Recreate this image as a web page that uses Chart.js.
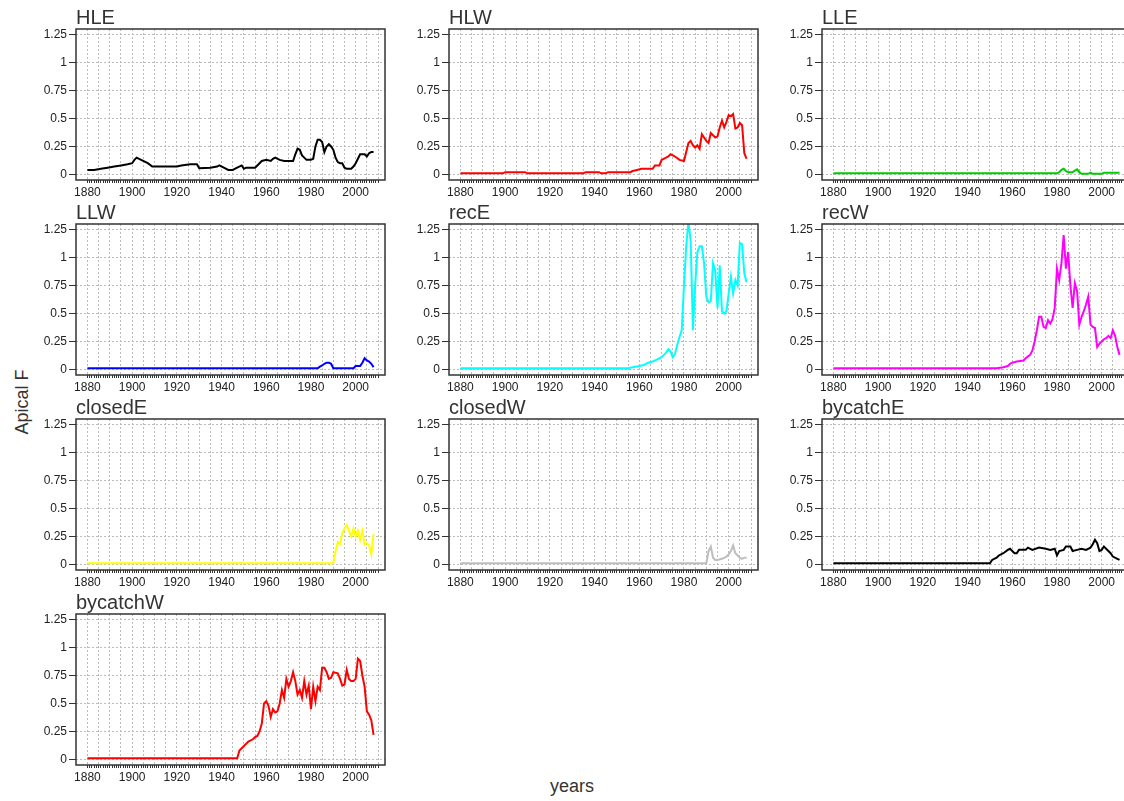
<!DOCTYPE html>
<html>
<head>
<meta charset="utf-8">
<script src="https://cdn.jsdelivr.net/npm/chart.js@4"></script>
<style>
  html, body { margin: 0; padding: 0; background: #fff; overflow: hidden; }
  #page { position: relative; width: 1124px; height: 801px; overflow: hidden; font-family: "Liberation Sans", Arial, sans-serif; }
  .panel { position: absolute; }
  .axisTitle { position: absolute; color: #333; font-size: 18px; white-space: nowrap; }
</style>
</head>
<body>
<div id="page">
  <div class="axisTitle" style="left:572px;top:776px;transform:translateX(-50%);">years</div>
  <div class="axisTitle" style="left:22px;top:402px;transform:translate(-50%,-50%) rotate(-90deg);">Apical F</div>
</div>
<script>
// Apical F by fleet (sparse years, straight lines between)
const hleYears = [1880,1883,1886,1889,1892,1895,1898,1900,1901,1902,
  1904,1907,1909,1915,1920,1922,1926,1929,1930,1935,
  1938,1939,1941,1943,1945,1947,1949,1950,1951,1955,
  1956,1958,1960,1962,1963,1964,1966,1968,1972,1973,
  1974,1975,1976,1977,1978,1980,1981,1982,1983,1984,
  1985,1986,1987,1988,1989,1990,1991,1992,1993,1994,
  1995,1996,1997,1998,1999,2000,2001,2002,2003,2004,
  2005,2006,2007,2008];
const hleF = [0.04,0.04,0.05,0.06,0.07,0.08,0.09,0.1,0.13,0.15,
  0.13,0.1,0.07,0.07,0.07,0.08,0.09,0.09,0.055,0.06,
  0.07,0.08,0.06,0.04,0.04,0.06,0.08,0.05,0.06,0.06,
  0.08,0.12,0.13,0.12,0.14,0.15,0.13,0.12,0.12,0.18,
  0.23,0.22,0.17,0.15,0.13,0.13,0.14,0.25,0.31,0.31,
  0.29,0.2,0.25,0.27,0.25,0.22,0.15,0.11,0.1,0.1,
  0.06,0.05,0.05,0.05,0.07,0.1,0.14,0.18,0.18,0.18,
  0.16,0.19,0.2,0.2];

const hlwYears = [1880,1899,1900,1909,1910,1935,1936,1942,1943,1945,
  1946,1956,1957,1959,1961,1966,1967,1969,1970,1972,
  1973,1974,1975,1976,1978,1980,1981,1982,1983,1984,
  1985,1986,1987,1988,1989,1990,1991,1992,1993,1994,
  1995,1996,1997,1998,1999,2000,2001,2002,2003,2004,
  2005,2006,2007,2008];
const hlwF = [0.01,0.01,0.02,0.02,0.01,0.01,0.02,0.02,0.01,0.01,
  0.02,0.02,0.03,0.04,0.05,0.05,0.08,0.08,0.13,0.15,
  0.16,0.18,0.17,0.16,0.13,0.12,0.2,0.28,0.3,0.26,
  0.24,0.26,0.23,0.36,0.33,0.3,0.28,0.37,0.35,0.33,
  0.34,0.42,0.48,0.42,0.47,0.53,0.52,0.54,0.41,0.42,
  0.46,0.44,0.19,0.14];

const lleYears = [1880,1980,1981,1982,1983,1984,1985,1987,1988,1989,
  1990,1991,1994,1995,1996,2000,2001,2008];
const lleF = [0.01,0.01,0.02,0.04,0.05,0.03,0.02,0.02,0.035,0.045,
  0.02,0.005,0.005,0.015,0.005,0.005,0.015,0.015];

const llwYears = [1880,1983,1984,1985,1986,1987,1988,1989,1990,1999,
  2000,2001,2002,2003,2004,2005,2006,2007,2008];
const llwF = [0.01,0.01,0.025,0.035,0.05,0.06,0.06,0.05,0.01,0.01,
  0.03,0.03,0.03,0.06,0.1,0.08,0.07,0.05,0.02];

const recEYears = [1880,1955,1957,1960,1962,1964,1966,1968,1970,1971,
  1972,1973,1974,1975,1976,1977,1978,1979,1980,1981,
  1982,1983,1984,1985,1986,1987,1988,1989,1990,1991,
  1992,1993,1994,1995,1996,1997,1998,1999,2000,2001,
  2002,2003,2004,2005,2006,2007,2008];
const recEF = [0.01,0.01,0.02,0.03,0.04,0.06,0.07,0.09,0.11,0.13,
  0.15,0.18,0.16,0.11,0.14,0.22,0.29,0.35,0.75,1.1,
  1.32,1.15,0.35,0.75,1.05,1.1,1.1,0.95,0.65,0.6,
  0.61,0.95,0.88,0.55,0.93,0.52,0.5,0.52,0.68,0.83,
  0.68,0.8,0.75,1.13,1.12,0.86,0.78];

const recWYears = [1880,1953,1956,1958,1959,1960,1962,1965,1966,1968,
  1969,1970,1971,1972,1973,1974,1975,1976,1977,1978,
  1979,1980,1981,1982,1983,1984,1985,1986,1987,1988,
  1989,1990,1991,1992,1993,1994,1995,1996,1997,1998,
  1999,2000,2001,2002,2003,2004,2005,2006,2007,2008];
const recWF = [0.01,0.01,0.02,0.03,0.05,0.06,0.07,0.08,0.1,0.13,
  0.17,0.25,0.35,0.47,0.47,0.38,0.37,0.44,0.41,0.45,
  0.55,0.9,0.8,0.95,1.2,0.9,1.05,0.75,0.55,0.77,
  0.7,0.4,0.47,0.52,0.58,0.65,0.4,0.38,0.37,0.2,
  0.23,0.25,0.27,0.28,0.3,0.28,0.35,0.3,0.2,0.13];

const closedEYears = [1880,1990,1991,1992,1993,1994,1995,1996,1997,1998,
  1999,2000,2001,2002,2003,2004,2005,2006,2007,2008];
const closedEF = [0.01,0.01,0.12,0.2,0.18,0.28,0.32,0.35,0.3,0.25,
  0.32,0.25,0.3,0.22,0.3,0.18,0.19,0.17,0.09,0.27];

const closedWYears = [1880,1990,1991,1992,1993,1994,1995,1997,1999,2000,
  2001,2002,2003,2004,2005,2006,2007,2008];
const closedWF = [0.01,0.01,0.12,0.16,0.06,0.04,0.04,0.05,0.07,0.09,
  0.12,0.17,0.1,0.08,0.06,0.05,0.06,0.06];

const bycatchEYears = [1880,1950,1951,1953,1954,1956,1958,1959,1960,1961,
  1962,1963,1966,1967,1969,1972,1975,1977,1979,1980,
  1981,1983,1984,1986,1987,1989,1991,1993,1995,1996,
  1997,1998,1999,2000,2001,2003,2004,2005,2007,2008];
const bycatchEF = [0.01,0.01,0.04,0.06,0.08,0.1,0.13,0.14,0.12,0.1,
  0.1,0.13,0.13,0.15,0.13,0.15,0.14,0.13,0.14,0.08,
  0.12,0.13,0.16,0.16,0.12,0.13,0.14,0.13,0.15,0.18,
  0.22,0.19,0.12,0.13,0.16,0.12,0.1,0.07,0.05,0.04];

const bycatchWYears = [1880,1947,1948,1950,1952,1954,1955,1956,1957,1958,
  1959,1960,1961,1962,1963,1964,1965,1966,1967,1968,
  1969,1970,1971,1972,1973,1974,1975,1976,1977,1978,
  1979,1980,1981,1982,1983,1984,1985,1986,1987,1988,
  1989,1990,1992,1993,1994,1995,1996,1997,1998,1999,
  2000,2001,2002,2003,2004,2005,2006,2007,2008];
const bycatchWF = [0.01,0.01,0.08,0.12,0.16,0.18,0.2,0.21,0.25,0.32,
  0.5,0.52,0.48,0.38,0.45,0.42,0.43,0.5,0.62,0.55,
  0.72,0.65,0.7,0.78,0.7,0.58,0.62,0.55,0.7,0.58,
  0.66,0.45,0.65,0.52,0.65,0.62,0.82,0.82,0.78,0.72,
  0.73,0.78,0.77,0.72,0.66,0.67,0.8,0.72,0.7,0.7,
  0.72,0.9,0.88,0.75,0.65,0.43,0.4,0.35,0.22];

const fleetNames = ['HLE','HLW','LLE','LLW','recE','recW','closedE','closedW','bycatchE','bycatchW'];
const fleetColors = ['#000000','#FF0000','#00CD00','#0000FF','#00FFFF','#FF00FF','#FFFF00','#BEBEBE','#000000','#FF0000'];
const fleetYears = [hleYears,hlwYears,lleYears,llwYears,recEYears,recWYears,closedEYears,closedWYears,bycatchEYears,bycatchWYears];
const fleetF = [hleF,hlwF,lleF,llwF,recEF,recWF,closedEF,closedWF,bycatchEF,bycatchWF];

const yTicks = [0, 0.25, 0.5, 0.75, 1, 1.25];

Chart.defaults.font.family = '"Liberation Sans", Arial, sans-serif';
Chart.defaults.animation = false;

// box around each plot region
const plotBox = {
  id: 'plotBox',
  afterDatasetsDraw(chart) {
    const {ctx, chartArea: a} = chart;
    ctx.save();
    ctx.strokeStyle = '#333';
    ctx.lineWidth = 1.5;
    ctx.strokeRect(a.left, a.top, a.right - a.left, a.bottom - a.top);
    ctx.restore();
  }
};

const boxLefts = [76, 449, 822];
const boxTops = [29, 224, 419, 614];
const yAxisW = 76, titleH = 21, xAxisH = 24, plotW = 309, plotH = 151, padR = 3;

const page = document.getElementById('page');

fleetNames.forEach((name, i) => {
  const col = i % 3, row = Math.floor(i / 3);
  const div = document.createElement('div');
  div.className = 'panel';
  div.style.left = (boxLefts[col] - yAxisW) + 'px';
  div.style.top = (boxTops[row] - titleH) + 'px';
  const canvas = document.createElement('canvas');
  canvas.width = yAxisW + plotW + padR;
  canvas.height = titleH + plotH + xAxisH;
  div.appendChild(canvas);
  page.appendChild(div);

  const points = fleetYears[i].map((yr, k) => ({x: yr, y: fleetF[i][k]}));

  new Chart(canvas.getContext('2d'), {
    type: 'line',
    data: {
      datasets: [{
        data: points,
        borderColor: fleetColors[i],
        borderWidth: 2,
        pointRadius: 0,
        tension: 0,
        fill: false
      }]
    },
    options: {
      responsive: false,
      layout: { padding: { left: 0, right: padR, top: 0, bottom: 0 } },
      plugins: {
        legend: { display: false },
        tooltip: { enabled: false },
        title: {
          display: true,
          text: name,
          align: 'start',
          fullSize: false,
          color: '#333',
          font: { size: 20, lineHeight: 1, weight: 'normal' },
          padding: { top: 0, bottom: 1 }
        }
      },
      scales: {
        x: {
          type: 'linear',
          min: 1874.88,
          max: 2013.12,
          afterBuildTicks: (scale) => {
            const t = [];
            for (let yr = 1880; yr <= 2010; yr++) t.push({ value: yr });
            scale.ticks = t;
          },
          afterFit: (scale) => { scale.height = xAxisH; },
          border: { display: false, dash: [2, 2] },
          grid: {
            color: (c) => (c.tick && c.tick.value % 5 === 0) ? '#bbbbbb' : 'rgba(0,0,0,0)',
            lineWidth: 1,
            tickColor: '#333',
            tickLength: 3,
            tickBorderDash: []
          },
          ticks: {
            autoSkip: false,
            maxRotation: 0,
            minRotation: 0,
            padding: 2,
            color: '#222',
            font: { size: 12 },
            callback: (v) => (v % 20 === 0 ? String(v) : '')
          }
        },
        y: {
          type: 'linear',
          min: -0.05,
          max: 1.30,
          afterBuildTicks: (scale) => { scale.ticks = yTicks.map(v => ({ value: v })); },
          afterFit: (scale) => { scale.width = yAxisW; },
          border: { display: false, dash: [2, 2] },
          grid: {
            color: '#bbbbbb',
            lineWidth: 1,
            tickColor: '#333',
            tickLength: 7,
            tickBorderDash: []
          },
          ticks: {
            padding: 2,
            color: '#222',
            font: { size: 12 },
            callback: (v) => String(v)
          }
        }
      }
    },
    plugins: [plotBox]
  });
});
</script>
</body>
</html>
